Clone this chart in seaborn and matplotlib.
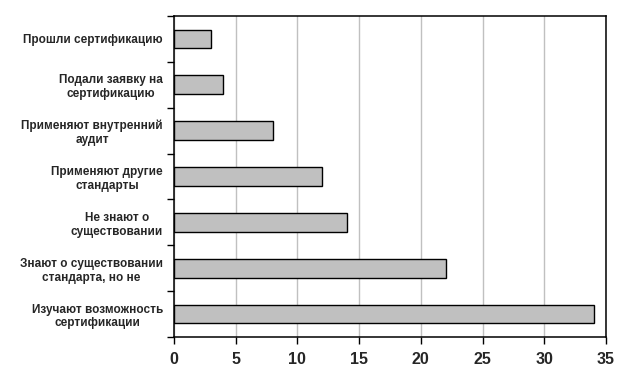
import matplotlib
matplotlib.use("Agg")
import matplotlib.pyplot as plt
import seaborn as sns
import pandas as pd
import numpy as np
from matplotlib.ticker import FixedLocator, MultipleLocator

categories = [
    "Прошли сертификацию",
    "Подали заявку на\nсертификацию",
    "Применяют внутренний\nаудит",
    "Применяют другие\nстандарты",
    "Не знают о\nсуществовании",
    "Знают о существовании\nстандарта, но не",
    "Изучают возможность\nсертификации",
]
values = [3, 4, 8, 12, 14, 22, 34]

sns.set_style("white")
plt.rcParams['font.family'] = ['Liberation Sans', 'DejaVu Sans']

df = pd.DataFrame({"cat": categories, "val": values})

fig = plt.figure(figsize=(6.34, 3.88), dpi=100)
ax = fig.add_axes([174/634, 1-337/388, (606-174)/634, (337-16)/388])

sns.barplot(data=df, x="val", y="cat", orient="h", color="#C0C0C0",
            edgecolor="black", linewidth=1.0, width=0.41, saturation=1, ax=ax)

ax.set_xlim(0, 35)
ax.set_ylim(6.5, -0.5)
ax.xaxis.set_major_locator(MultipleLocator(5))
ax.grid(axis="x", color="#C0C0C0", linewidth=1.0)
ax.set_axisbelow(True)
for s in ax.spines.values():
    s.set_visible(True)
    s.set_color("black")
    s.set_linewidth(1.1)

n = len(categories)
ax.yaxis.set_major_locator(FixedLocator(np.arange(-0.5, n, 1.0)))
ax.yaxis.set_minor_locator(FixedLocator(np.arange(0, n, 1.0)))
ax.set_yticklabels([""] * (n + 1))
ax.set_yticklabels(categories, minor=True, fontsize=8.5, fontweight="bold",
                   multialignment="center")
ax.tick_params(axis="y", which="major", direction="out", length=5, width=1, color="black", left=True)
ax.tick_params(axis="y", which="minor", length=0, pad=8)
ax.tick_params(axis="x", direction="out", length=5, width=1, color="black", bottom=True,
               labelsize=11.5, pad=6)
for lab in ax.get_xticklabels():
    lab.set_fontweight("bold")
ax.set_xlabel("")
ax.set_ylabel("")

fig.savefig("out.png", dpi=100)
